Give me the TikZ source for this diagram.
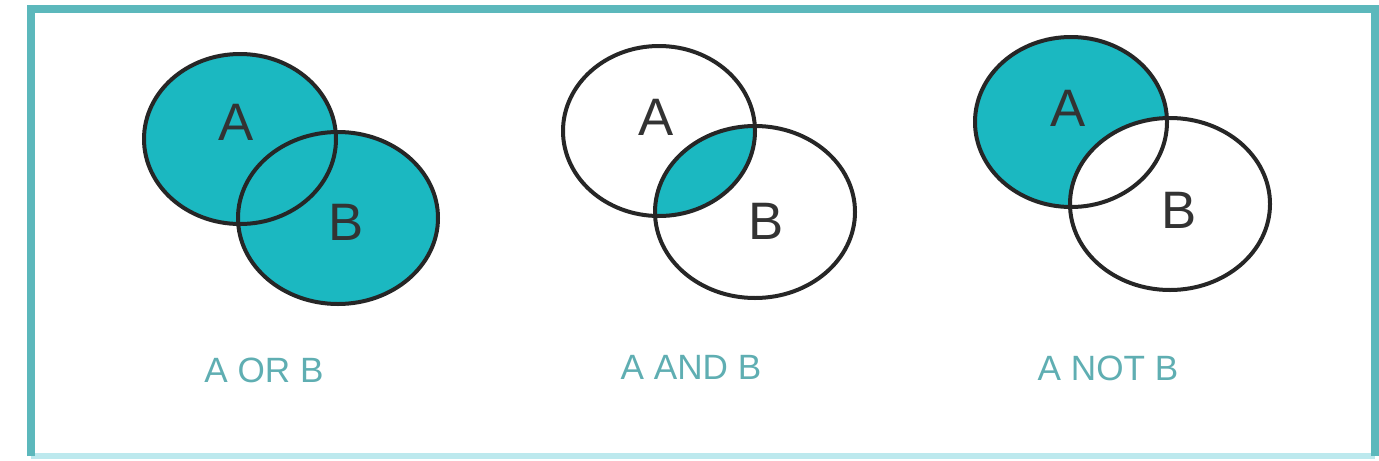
\documentclass[tikz,border=0pt]{standalone}
\usepackage{fontspec}
\setmainfont{Liberation Sans}
\definecolor{vennfill}{HTML}{1BB8C1}
\definecolor{framecol}{HTML}{5CB8BC}
\definecolor{framelight}{HTML}{BDE9EE}
\definecolor{captioncol}{HTML}{5FAEB2}
\begin{document}
\begin{tikzpicture}[
    x=0.02cm, y=-0.02cm,
    setline/.style={draw=black!85, line width=0.08cm},
    sizeA/.style={x radius=96, y radius=85},
    sizeB/.style={x radius=100, y radius=86},
    letter/.style={font=\fontsize{30}{32}\selectfont, text=black!80},
    caption/.style={font=\fontsize{20}{22}\selectfont, text=captioncol}
]
\useasboundingbox (0,0) rectangle (1379,460);
% Frame
\coordinate (frameNW) at (31,9);
\coordinate (frameSE) at (1375,456);
\draw[framelight, line width=0.12cm] (frameNW |- frameSE) -- (frameSE);
\draw[framecol, line width=0.16cm] (frameNW |- frameSE) -- (frameNW) -- (frameNW -| frameSE) -- (frameSE);

% A OR B
\coordinate (orA) at (240,139);
\coordinate (orB) at (338,218);
\fill[vennfill] (orA) ellipse [sizeA];
\fill[vennfill] (orB) ellipse [sizeB];
\draw[setline] (orA) ellipse [sizeA];
\draw[setline] (orB) ellipse [sizeB];
\node[letter] (orLabelA) at (236,122) {A};
\node[letter] (orLabelB) at (346,222) {B};
\node[caption] (orCaption) at (264,370) {A OR B};

% A AND B
\coordinate (andA) at (659,131);
\coordinate (andB) at (755,212);
\begin{scope}
\clip (andA) ellipse [sizeA];
\fill[vennfill] (andB) ellipse [sizeB];
\end{scope}
\draw[setline] (andA) ellipse [sizeA];
\draw[setline] (andB) ellipse [sizeB];
\node[letter] (andLabelA) at (656,117) {A};
\node[letter] (andLabelB) at (766,221) {B};
\node[caption] (andCaption) at (691,367) {A AND B};

% A NOT B
\coordinate (notA) at (1071,122);
\coordinate (notB) at (1170,204);
\begin{scope}
\clip (notA) ellipse [sizeA];
\fill[vennfill, even odd rule] (notA) ellipse [sizeA] (notB) ellipse [sizeB];
\end{scope}
\draw[setline] (notA) ellipse [sizeA];
\draw[setline] (notB) ellipse [sizeB];
\node[letter] (notLabelA) at (1068,108) {A};
\node[letter] (notLabelB) at (1179,210) {B};
\node[caption] (notCaption) at (1108,368) {A NOT B};

\end{tikzpicture}
\end{document}
